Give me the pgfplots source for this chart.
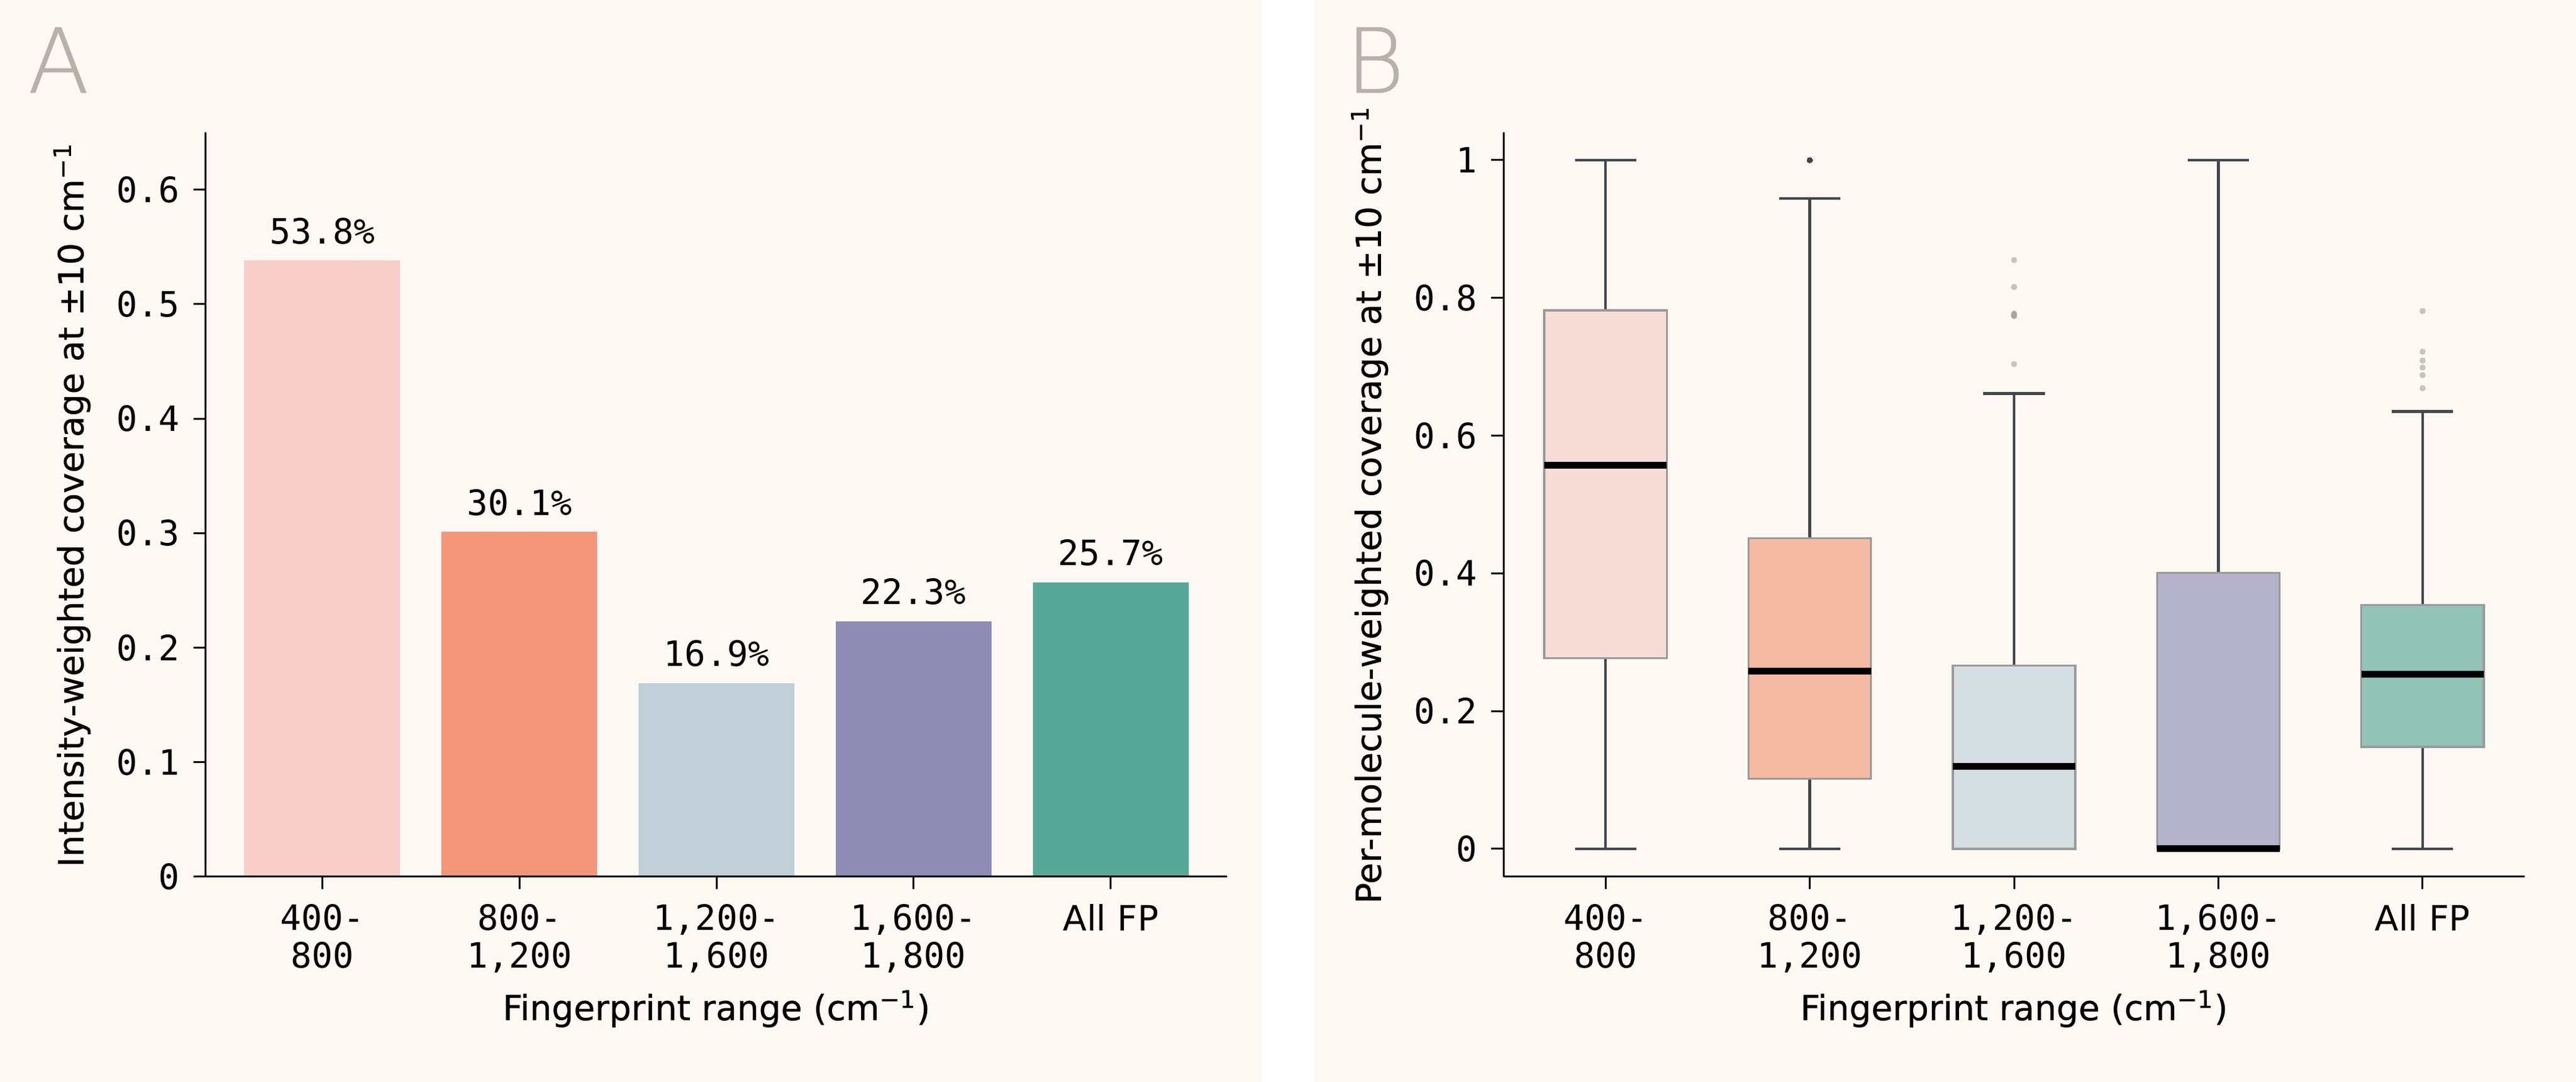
\documentclass[border=0pt]{standalone}
\usepackage{fontspec}
\setmainfont{DejaVu Sans}
\newfontfamily\labfam[FakeBold=0.5]{DejaVu Sans}
\newfontfamily\monofont{DejaVu Sans Mono}
\newfontfamily\lightfont[FakeBold=0.6]{DejaVu Sans ExtraLight}
\usepackage{pgfplots}
\pgfplotsset{compat=1.18}
\usepgfplotslibrary{statistics}

\definecolor{bg}{HTML}{FDF8F2}
\definecolor{cA}{HTML}{F9CDC8}
\definecolor{cB}{HTML}{F39579}
\definecolor{cC}{HTML}{C0CFD8}
\definecolor{cD}{HTML}{8E8BB5}
\definecolor{cE}{HTML}{58A897}
\definecolor{bA}{HTML}{F8DCD7}
\definecolor{bB}{HTML}{F6B9A3}
\definecolor{bC}{HTML}{D5DEE2}
\definecolor{bD}{HTML}{B5B2CB}
\definecolor{bE}{HTML}{92C3B6}
\definecolor{boxedge}{HTML}{9A9A9A}
\definecolor{whisk}{HTML}{43464C}
\definecolor{outl}{HTML}{C7C4C0}
\definecolor{outld}{HTML}{A9A6A2}
\definecolor{lettercol}{HTML}{B9B0A8}

\newcommand{\tickfont}{\monofont\fontsize{11.3}{12.2}\selectfont}
\newcommand{\labfont}{\labfam\fontsize{11.2}{13}\selectfont}

\pgfplotsset{
  panel/.style={
    scale only axis, width=330.4pt, height=240.8pt,
    axis lines*=left,
    axis line style={black, line width=0.6pt},
    tick style={black, line width=0.6pt},
    major tick length=4pt, tick align=outside,
    tick label style={font=\tickfont},
    /pgf/number format/assume math mode=true,
    xticklabel style={inner sep=0pt, yshift=-4.8pt, align=center},
    yticklabel style={inner sep=0pt, xshift=-4.2pt},
    xtick={0,1,2,3,4},
    xticklabels={{400-\\800},{800-\\1,200},{1,200-\\1,600},{1,600-\\1,800},{\rmfamily All FP}},
    every axis x label/.style={at={(axis description cs:0.5,-0.1927)}, anchor=base},
    every axis y label/.style={at={(axis description cs:-0.12,0.5)}, rotate=90, anchor=base},
    label style={font=\labfont},
    xlabel={Fingerprint range (cm\textsuperscript{−1})},
    clip=false,
  },
  mybar/.style={ybar, bar width=0.79, bar shift=0pt, draw=none, fill=#1,
    nodes near coords, point meta=explicit symbolic,
    nodes near coords style={font=\tickfont, anchor=base, inner sep=0pt, yshift=5.4pt, text=black}},
  mybox/.style={fill=#1, draw=none, boxplot/draw direction=y},
}

\begin{document}
\begin{tikzpicture}
\useasboundingbox (0,0) rectangle (833.4pt,350pt);
\fill[bg] (0,0) rectangle (408.4pt,350pt);
\fill[white] (408.4pt,0) rectangle (425pt,350pt);
\fill[bg] (425pt,0) rectangle (833.4pt,350pt);

\node[anchor=base west, inner sep=0pt, font=\lightfont\fontsize{29}{30}\selectfont, text=lettercol] at (8.8pt,320pt) {A};
\node[anchor=base west, inner sep=0pt, font=\lightfont\fontsize{29}{30}\selectfont, text=lettercol] at (435.2pt,320pt) {B};

% Panel A
\begin{axis}[panel, at={(66.6pt,66.4pt)}, anchor=south west,
  xmin=-0.59, xmax=4.59, ymin=0, ymax=0.65,
  ytick={0,0.1,0.2,0.3,0.4,0.5,0.6},
  axis on top,
  ylabel={Intensity-weighted coverage at ±10 cm\textsuperscript{−1}}]
\addplot[mybar=cA] coordinates {(0,0.538) [53.8\%]};
\addplot[mybar=cB] coordinates {(1,0.301) [30.1\%]};
\addplot[mybar=cC] coordinates {(2,0.169) [16.9\%]};
\addplot[mybar=cD] coordinates {(3,0.223) [22.3\%]};
\addplot[mybar=cE] coordinates {(4,0.257) [25.7\%]};
\end{axis}

% Panel B
\begin{axis}[panel, at={(486.4pt,66.4pt)}, anchor=south west,
  xmin=-0.5, xmax=4.5, ymin=-0.0404, ymax=1.0404,
  ytick={0,0.2,0.4,0.6,0.8,1},
  boxplot/draw direction=y,
  boxplot/box extend=0.6,
  boxplot/whisker extend=0.3,
  boxplot/every box/.style={draw=boxedge, line width=0.7pt},
  boxplot/every whisker/.style={draw=whisk, line width=0.85pt},
  boxplot/every median/.style={draw=black, line width=2.2pt},
  ylabel={Per-molecule-weighted coverage at ±10 cm\textsuperscript{−1}}]
\addplot[mybox=bA, boxplot prepared={draw position=0, lower whisker=0, lower quartile=0.277, median=0.557, upper quartile=0.782, upper whisker=1.0}] coordinates {};
\addplot[mybox=bB, boxplot prepared={draw position=1, lower whisker=0, lower quartile=0.102, median=0.258, upper quartile=0.451, upper whisker=0.944}] coordinates {};
\addplot[mybox=bC, boxplot prepared={draw position=2, lower whisker=0, lower quartile=0, median=0.120, upper quartile=0.266, upper whisker=0.661}] coordinates {};
\addplot[mybox=bD, boxplot prepared={draw position=3, lower whisker=0, lower quartile=0, median=0, upper quartile=0.401, upper whisker=1.0}] coordinates {};
\addplot[mybox=bE, boxplot prepared={draw position=4, lower whisker=0, lower quartile=0.148, median=0.254, upper quartile=0.354, upper whisker=0.635}] coordinates {};
\addplot[only marks, mark=*, mark size=0.9pt, mark options={solid, draw=outl, fill=outl, line width=0pt}]
  coordinates {(2,0.855) (2,0.816) (2,0.704)
               (4,0.781) (4,0.722) (4,0.709) (4,0.699) (4,0.688) (4,0.669)};
\addplot[only marks, mark=*, mark size=0.9pt, mark options={solid, draw=outld, fill=outld, line width=0pt}]
  coordinates {(2,0.777) (2,0.774)};
\addplot[only marks, mark=*, mark size=0.9pt, mark options={solid, draw=whisk, fill=whisk, line width=0pt}]
  coordinates {(1,1.0)};
\end{axis}
\end{tikzpicture}
\end{document}
